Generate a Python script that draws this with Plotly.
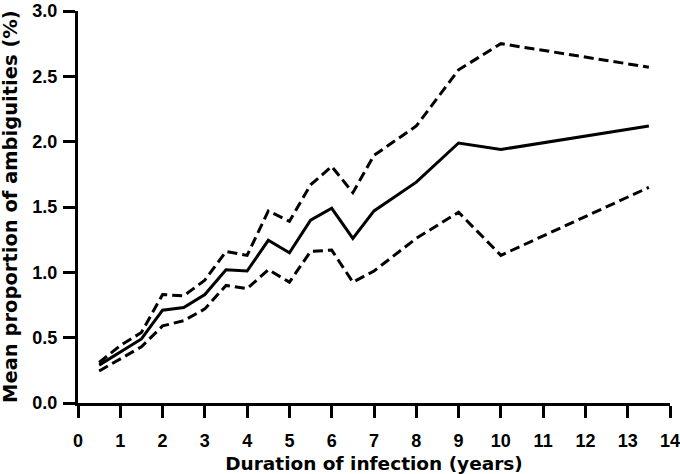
import plotly.graph_objects as go

duration = [0.5, 1, 1.5, 2, 2.5, 3, 3.5, 4, 4.5, 5, 5.5, 6, 6.5, 7, 8, 9, 10, 13.5]
mean_amb = [0.29, 0.39, 0.49, 0.71, 0.73, 0.83, 1.02, 1.01, 1.245, 1.15, 1.40, 1.49, 1.26, 1.47, 1.69, 1.99, 1.94, 2.12]
upper_ci = [0.31, 0.44, 0.54, 0.83, 0.82, 0.94, 1.16, 1.13, 1.47, 1.39, 1.67, 1.81, 1.61, 1.895, 2.12, 2.55, 2.75, 2.57]
lower_ci = [0.245, 0.34, 0.43, 0.59, 0.63, 0.72, 0.90, 0.875, 1.02, 0.925, 1.16, 1.17, 0.925, 1.01, 1.26, 1.46, 1.13, 1.65]

x_ticks = list(range(0, 15))
y_ticks = [0.0, 0.5, 1.0, 1.5, 2.0, 2.5, 3.0]

fig = go.Figure()
fig.add_trace(go.Scatter(x=duration, y=upper_ci, mode="lines",
                         line=dict(color="black", width=3, dash="10px,5px"), showlegend=False))
fig.add_trace(go.Scatter(x=duration, y=lower_ci, mode="lines",
                         line=dict(color="black", width=3, dash="10px,5px"), showlegend=False))
fig.add_trace(go.Scatter(x=duration, y=mean_amb, mode="lines",
                         line=dict(color="black", width=3), showlegend=False))

tickfont = dict(family="Liberation Sans", size=18, color="black", weight="bold")
titlefont = dict(family="DejaVu Sans", size=18.5, color="black", weight="bold")

fig.update_layout(
    width=680, height=474,
    margin=dict(l=78, r=10, t=11, b=71, autoexpand=False),
    plot_bgcolor="white", paper_bgcolor="white",
    xaxis=dict(range=[0, 14], tickvals=x_ticks, ticktext=[str(v) for v in x_ticks],
               automargin=False,
               showgrid=False, zeroline=False, showline=True, linecolor="black", linewidth=3,
               ticks="outside", ticklen=12, tickwidth=3, tickcolor="black",
               tickfont=tickfont, ticklabelstandoff=7, ticklabeloverflow="allow",
               title=dict(text="Duration of infection (years)", font=titlefont, standoff=9)),
    yaxis=dict(range=[0, 3], tickvals=y_ticks, ticktext=[f"{v:.1f}" for v in y_ticks],
               automargin=False,
               showgrid=False, zeroline=False, showline=True, linecolor="black", linewidth=3,
               ticks="outside", ticklen=12, tickwidth=3, tickcolor="black",
               tickfont=tickfont, ticklabelstandoff=2, ticklabeloverflow="allow"),
    annotations=[dict(text="Mean proportion of ambiguities (%)", textangle=-90,
                      xref="paper", yref="paper", x=0, y=0.5, xanchor="center", yanchor="middle",
                      xshift=-68, showarrow=False,
                      font=dict(family="DejaVu Sans", size=19.5, color="black", weight="bold"))],
)

fig.write_html("out.html", config={"displayModeBar": False},
               post_script="document.body.style.margin='0';document.body.style.overflow='hidden';")
